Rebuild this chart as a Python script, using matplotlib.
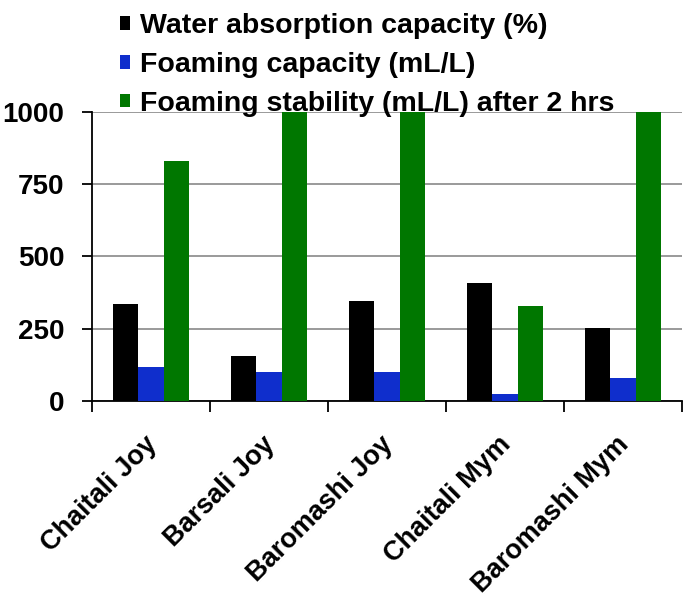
import numpy as np
import matplotlib
matplotlib.use("Agg")
import matplotlib.pyplot as plt
import matplotlib.transforms as mtransforms

# -----------------------------
# Data
# -----------------------------
varieties = ["Chaitali Joy", "Barsali Joy", "Baromashi Joy",
             "Chaitali Mym", "Baromashi Mym"]
water_absorption = [335, 157, 347, 410, 251]
foaming_capacity = [118, 99, 99, 23, 81]
foaming_stability = [830, 1000, 1000, 328, 1000]

series_names = ["Water absorption capacity (%)",
                "Foaming capacity (mL/L)",
                "Foaming stability (mL/L) after 2 hrs"]
series_colors = ["#000000", "#0f2ecc", "#007700"]

plt.rcParams["font.family"] = ["Liberation Sans", "DejaVu Sans"]
plt.rcParams["font.weight"] = "bold"

fig = plt.figure(figsize=(6.88, 6.05), dpi=100)
ax = fig.add_axes([0.1337, 0.3372, 0.8577, 0.4777])

x = np.arange(len(varieties))
width = 0.216
all_series = [water_absorption, foaming_capacity, foaming_stability]
for i, (vals, name, col) in enumerate(zip(all_series, series_names, series_colors)):
    ax.bar(x + (i - 1) * width, vals, width, color=col, label=name, zorder=3)

ax.set_xlim(-0.5, len(varieties) - 0.5)
ax.set_ylim(0, 1000)
ax.set_yticks([0, 250, 500, 750, 1000])
ax.yaxis.grid(True, color="#9a9a9a", linewidth=1.4, zorder=0)

# category labels at centres, tick marks at the boundaries
ax.set_xticks(x)
ax.set_xticklabels(varieties, rotation=45, ha="right", va="top",
                   fontsize=19.5, fontweight="bold")
ax.tick_params(axis="x", which="major", length=0, pad=22)
ax.set_xticks(np.arange(-0.5, len(varieties)), minor=True)
ax.tick_params(axis="x", which="minor", length=8, width=1.3, color="black")
shift = mtransforms.ScaledTranslation(0.11, 0, fig.dpi_scale_trans)
for lbl in ax.get_xticklabels():
    lbl.set_transform(lbl.get_transform() + shift)
ax.tick_params(axis="y", length=7, width=1.3, pad=13, labelsize=20)
for lbl in ax.get_yticklabels():
    lbl.set_fontweight("bold")

for side in ["top", "right"]:
    ax.spines[side].set_visible(False)
for side in ["left", "bottom"]:
    ax.spines[side].set_linewidth(1.3)

leg = fig.legend(loc="upper left", bbox_to_anchor=(0.158, 0.997),
                 frameon=False, fontsize=20.5, handlelength=0.35,
                 handleheight=0.35, handletextpad=0.35, labelspacing=0.45,
                 borderaxespad=0)
for t in leg.get_texts():
    t.set_fontweight("bold")

fig.savefig("out.png", dpi=100)
